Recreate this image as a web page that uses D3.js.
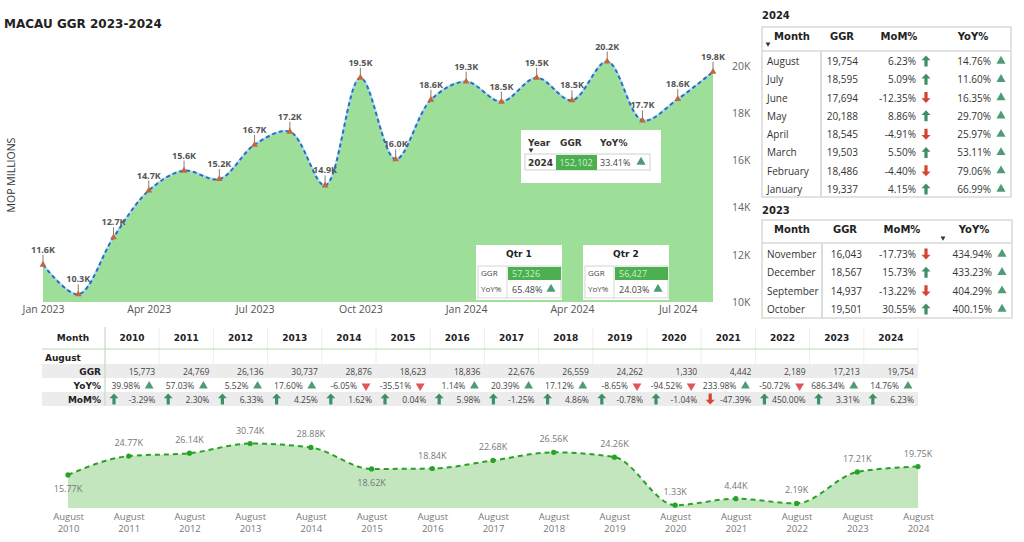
<!DOCTYPE html>
<html>
<head>
<meta charset="utf-8">
<script src="https://cdn.jsdelivr.net/npm/d3@7"></script>
<style>
  body { margin: 0; background: #fff; }
  svg { display: block; font-family: "Open Sans", sans-serif; }
</style>
</head>
<body>
<svg id="chart" width="1024" height="542"></svg>
<script>
// ---- data ----
const months = ["Jan 2023","Feb 2023","Mar 2023","Apr 2023","May 2023","Jun 2023","Jul 2023","Aug 2023","Sep 2023","Oct 2023","Nov 2023","Dec 2023",
  "Jan 2024","Feb 2024","Mar 2024","Apr 2024","May 2024","Jun 2024","Jul 2024","Aug 2024"];
const monthGGR = [11580, 10324, 12738, 14722, 15565, 15207, 16662, 17213, 14937, 19501, 16043, 18567,
  19337, 18486, 19503, 18545, 20188, 17694, 18595, 19754];
const monthTicks = ["Jan 2023","Apr 2023","Jul 2023","Oct 2023","Jan 2024","Apr 2024","Jul 2024"];
const yTicks = [10000, 12000, 14000, 16000, 18000, 20000];

const summaryYear = "2024";
const summaryGGR = 152102;
const summaryYoY = 33.41;

const quarters = ["Qtr 1", "Qtr 2"];
const qtrGGR = [57326, 56427];
const qtrYoY = [65.48, 24.03];

const t24Months = ["August","July","June","May","April","March","February","January"];
const t24GGR = [19754, 18595, 17694, 20188, 18545, 19503, 18486, 19337];
const t24MoM = [6.23, 5.09, -12.35, 8.86, -4.91, 5.50, -4.40, 4.15];
const t24YoY = [14.76, 11.60, 16.35, 29.70, 25.97, 53.11, 79.06, 66.99];

const t23Months = ["November","December","September","October"];
const t23GGR = [16043, 18567, 14937, 19501];
const t23MoM = [-17.73, 15.73, -13.22, 30.55];
const t23YoY = [434.94, 433.23, 404.29, 400.15];

const years = ["2010","2011","2012","2013","2014","2015","2016","2017","2018","2019","2020","2021","2022","2023","2024"];
const augGGR = [15773, 24769, 26136, 30737, 28876, 18623, 18836, 22676, 26559, 24262, 1330, 4442, 2189, 17213, 19754];
const augYoY = [39.98, 57.03, 5.52, 17.60, -6.05, -35.51, 1.14, 20.39, 17.12, -8.65, -94.52, 233.98, -50.72, 686.34, 14.76];
const augMoM = [-3.29, 2.30, 6.33, 4.25, 1.62, 0.04, 5.98, -1.25, 4.86, -0.78, -1.04, -47.39, 450.00, 3.31, 6.23];
const augMoMArrow = ["up","up","up","up","up","up","up","up","up","up","up","down","up","up","up"];

// ---- helpers ----
const svg = d3.select("#chart");
const heavy = '"DejaVu Sans", Verdana, sans-serif';
const fmt = d3.format(",");
const pct = d => d.toFixed(2) + "%";
const GREEN_TRI = "#4f9c74", RED_TRI = "#e0555a", GREEN_ARR = "#3f8f66", RED_ARR = "#d2452f";
const arrowUp = "M0,-5.5L4.5,-0.8L1.6,-0.8L1.6,5.5L-1.6,5.5L-1.6,-0.8L-4.5,-0.8Z";

function tri(g, x, y, up, color, size) {
  g.append("path")
    .attr("d", d3.symbol(d3.symbolTriangle, size || 38)())
    .attr("transform", `translate(${x},${y})${up ? "" : " rotate(180)"}`)
    .attr("fill", color || (up ? GREEN_TRI : RED_TRI));
}
function arrow(g, x, y, up) {
  g.append("path")
    .attr("d", arrowUp)
    .attr("transform", `translate(${x},${y})${up ? "" : " rotate(180)"}`)
    .attr("fill", up ? GREEN_ARR : RED_ARR);
}

// ---- main chart ----
svg.append("text")
  .attr("x", 4).attr("y", 28)
  .style("font-family", heavy).style("font-weight", "bold").style("font-size", "12px")
  .attr("fill", "#222")
  .text("MACAU GGR 2023-2024");

svg.append("text")
  .attr("transform", "translate(15,175) rotate(-90)")
  .attr("text-anchor", "middle")
  .style("font-size", "10.5px").attr("fill", "#333")
  .text("MOP MILLIONS");

const x = d3.scalePoint().domain(months).range([43, 713]);
const y = d3.scaleLinear().domain([10000, 20000]).range([302, 66]);

svg.append("clipPath").attr("id", "plotclip")
  .append("rect").attr("x", 43).attr("y", 30).attr("width", 670).attr("height", 272);

const curve = d3.curveCatmullRom.alpha(0.5);
const main = svg.append("g").attr("clip-path", "url(#plotclip)");

main.append("path")
  .datum(monthGGR)
  .attr("fill", "#9ddf98")
  .attr("d", d3.area().x((d, i) => x(months[i])).y0(y(10000)).y1(d => y(d)).curve(curve));

const line = d3.line().x((d, i) => x(months[i])).y(d => y(d)).curve(curve);
main.append("path").datum(monthGGR)
  .attr("fill", "none").attr("stroke", "#a7dcef").attr("stroke-width", 2.2)
  .attr("d", line);
main.append("path").datum(monthGGR)
  .attr("fill", "none").attr("stroke", "#2f6db3").attr("stroke-width", 2)
  .attr("stroke-dasharray", "4,3")
  .attr("d", line);

const yAxis = svg.append("g")
  .attr("transform", "translate(729,0)")
  .call(d3.axisRight(y).tickValues(yTicks).tickSize(0).tickPadding(3).tickFormat(d => d / 1000 + "K"));
yAxis.select(".domain").remove();
yAxis.selectAll("text").style("font-size", "10.5px").style("font-family", '"Open Sans", sans-serif').attr("fill", "#666");

const xAxis = svg.append("g")
  .attr("transform", "translate(0,302)")
  .call(d3.axisBottom(x).tickValues(monthTicks).tickSize(0).tickPadding(4));
xAxis.select(".domain").remove();
xAxis.selectAll("text").style("font-size", "10.5px").style("font-family", '"Open Sans", sans-serif').attr("fill", "#555");

const pts = svg.append("g");
monthGGR.forEach((v, i) => {
  const px = x(months[i]), py = y(v);
  pts.append("line")
    .attr("x1", px).attr("x2", px).attr("y1", py - 10).attr("y2", py - 1)
    .attr("stroke", "#8a7a70").attr("stroke-width", 1);
  tri(pts, px, py, true, "#c6643a", 20);
  pts.append("text")
    .attr("x", px).attr("y", py - 12)
    .attr("text-anchor", "middle")
    .style("font-size", "9px").style("font-weight", "bold")
    .attr("fill", "#555")
    .text((v / 1000).toFixed(1) + "K");
});

// ---- year summary card ----
const card = svg.append("g");
card.append("rect").attr("x", 521).attr("y", 130).attr("width", 140).attr("height", 53).attr("fill", "#fff");
[["Year", 528], ["GGR", 560], ["YoY%", 600]].forEach(([t, cx]) => {
  card.append("text").attr("x", cx).attr("y", 146)
    .style("font-family", heavy).style("font-weight", "bold").style("font-size", "9px")
    .attr("fill", "#333").text(t);
});
tri(card, 531, 150, false, "#333", 10);
card.append("rect").attr("x", 525).attr("y", 154).attr("width", 125).attr("height", 16)
  .attr("fill", "none").attr("stroke", "#d0d0d0");
card.append("text").attr("x", 528).attr("y", 166)
  .style("font-family", heavy).style("font-weight", "bold").style("font-size", "9px")
  .attr("fill", "#333").text(summaryYear);
card.append("rect").attr("x", 556).attr("y", 155).attr("width", 41).attr("height", 15).attr("fill", "#4caf50");
card.append("text").attr("x", 576).attr("y", 166).attr("text-anchor", "middle")
  .style("font-size", "9px").attr("fill", "#d6efd6").text(fmt(summaryGGR));
card.append("text").attr("x", 600).attr("y", 166)
  .style("font-size", "9px").attr("fill", "#444").text(pct(summaryYoY));
tri(card, 641, 162, summaryYoY >= 0, GREEN_TRI, 36);

// ---- quarter cards ----
const qx = d3.scalePoint().domain(quarters).range([476, 583]);
quarters.forEach((q, i) => {
  const g = svg.append("g").attr("transform", `translate(${qx(q)},245)`);
  g.append("rect").attr("width", 86).attr("height", 55).attr("fill", "#fff");
  g.append("text").attr("x", 43).attr("y", 12).attr("text-anchor", "middle")
    .style("font-family", heavy).style("font-weight", "bold").style("font-size", "9px")
    .attr("fill", "#222").text(q);
  g.append("rect").attr("x", 2).attr("y", 21).attr("width", 83).attr("height", 32)
    .attr("fill", "none").attr("stroke", "#d6d6d6");
  g.append("line").attr("x1", 31).attr("x2", 31).attr("y1", 21).attr("y2", 53).attr("stroke", "#d6d6d6");
  g.append("rect").attr("x", 32).attr("y", 22).attr("width", 53).attr("height", 13).attr("fill", "#4caf50");
  g.append("text").attr("x", 5).attr("y", 31).style("font-size", "8px").attr("fill", "#444").text("GGR");
  g.append("text").attr("x", 5).attr("y", 47).style("font-size", "8px").attr("fill", "#444").text("YoY%");
  g.append("text").attr("x", 36).attr("y", 32).style("font-size", "9px").attr("fill", "#cfeecf").text(fmt(qtrGGR[i]));
  g.append("text").attr("x", 36).attr("y", 48).style("font-size", "9px").attr("fill", "#444").text(pct(qtrYoY[i]));
  tri(g, 75, 44, qtrYoY[i] >= 0, GREEN_TRI, 36);
});

// ---- right month tables ----
function monthTable(title, L, mNames, ggr, mom, yoy) {
  const g = svg.append("g");
  g.append("text").attr("x", 762).attr("y", L.titleY)
    .style("font-family", heavy).style("font-weight", "bold").style("font-size", "10px")
    .attr("fill", "#222").text(title);
  g.append("rect").attr("x", 762).attr("y", L.top).attr("width", L.right - 762).attr("height", L.bottom - L.top)
    .attr("fill", "#fff").attr("stroke", "#d9d9d9").attr("stroke-width", 1.5);
  g.append("line").attr("x1", 762).attr("x2", L.right).attr("y1", L.line).attr("y2", L.line)
    .attr("stroke", "#d9d9d9").attr("stroke-width", 1.5);
  g.append("line").attr("x1", L.div).attr("x2", L.div).attr("y1", L.line).attr("y2", L.bottom)
    .attr("stroke", "#d0d0d0").attr("stroke-width", 1.5);
  L.heads.forEach(([t, cx]) => {
    g.append("text").attr("x", cx).attr("y", L.headY).attr("text-anchor", "middle")
      .style("font-family", heavy).style("font-weight", "bold").style("font-size", "10px")
      .attr("fill", "#222").text(t);
  });
  tri(g, L.sort[0], L.sort[1], false, "#333", 10);
  const ry = d3.scalePoint().domain(mNames).range(L.rows);
  mNames.forEach((m, i) => {
    const cy = ry(m) + 4;
    g.append("text").attr("x", 767).attr("y", cy).style("font-size", "10px").attr("fill", "#333").text(m);
    g.append("text").attr("x", L.ggrX).attr("y", cy).attr("text-anchor", "end")
      .style("font-size", "10px").attr("fill", "#333").text(fmt(ggr[i]));
    g.append("text").attr("x", 916).attr("y", cy).attr("text-anchor", "end")
      .style("font-size", "10px").attr("fill", "#333").text(pct(mom[i]));
    arrow(g, 926, cy - 4, mom[i] >= 0);
    g.append("text").attr("x", L.yoyX).attr("y", cy).attr("text-anchor", "end")
      .style("font-size", "10px").attr("fill", "#333").text(pct(yoy[i]));
    tri(g, L.yoyX + 10, cy - 4, yoy[i] >= 0, GREEN_TRI, 36);
  });
}
monthTable("2024", {
  titleY: 19, top: 27, bottom: 197, right: 1011, line: 51, div: 821, headY: 40,
  heads: [["Month", 792], ["GGR", 842], ["MoM%", 899], ["YoY%", 973]],
  sort: [768, 44], rows: [61, 189], ggrX: 858, yoyX: 991
}, t24Months, t24GGR, t24MoM, t24YoY);
monthTable("2023", {
  titleY: 214, top: 220, bottom: 318, right: 1012, line: 243, div: 822, headY: 233,
  heads: [["Month", 792], ["GGR", 845], ["MoM%", 902], ["YoY%", 974]],
  sort: [943, 238], rows: [254, 309], ggrX: 862, yoyX: 992
}, t23Months, t23GGR, t23MoM, t23YoY);

// ---- bottom matrix ----
const bx = d3.scaleBand().domain(years).range([105, 918]);
const mt = svg.append("g");
mt.append("rect").attr("x", 42).attr("y", 364).attr("width", 876).attr("height", 14).attr("fill", "#ececec");
mt.append("rect").attr("x", 42).attr("y", 392).attr("width", 876).attr("height", 14).attr("fill", "#ececec");
years.forEach(yr => {
  mt.append("line").attr("x1", bx(yr) + bx.bandwidth()).attr("x2", bx(yr) + bx.bandwidth())
    .attr("y1", 327).attr("y2", 364).attr("stroke", "#eeeeee");
});
mt.append("line").attr("x1", 42).attr("x2", 918).attr("y1", 349).attr("y2", 349)
  .attr("stroke", "#b9d9b4").attr("stroke-width", 1.2);
mt.append("line").attr("x1", 105).attr("x2", 105).attr("y1", 327).attr("y2", 406)
  .attr("stroke", "#c5dcc2").attr("stroke-width", 1.2);
const hstyle = s => s.style("font-family", heavy).style("font-weight", "bold").style("font-size", "9px").attr("fill", "#222");
hstyle(mt.append("text").attr("x", 73).attr("y", 341).attr("text-anchor", "middle").text("Month"));
hstyle(mt.append("text").attr("x", 45).attr("y", 361).text("August"));
[["GGR", 375], ["YoY%", 389], ["MoM%", 403]].forEach(([t, yy]) => {
  hstyle(mt.append("text").attr("x", 101).attr("y", yy).attr("text-anchor", "end").text(t));
});
years.forEach((yr, i) => {
  const left = bx(yr), right = left + bx.bandwidth();
  hstyle(mt.append("text").attr("x", left + bx.bandwidth() / 2).attr("y", 341).attr("text-anchor", "middle").text(yr));
  mt.append("text").attr("x", right - 4).attr("y", 375).attr("text-anchor", "end")
    .style("font-size", "8.5px").attr("fill", "#444").text(fmt(augGGR[i]));
  mt.append("text").attr("x", right - 19).attr("y", 389).attr("text-anchor", "end")
    .style("font-size", "8.5px").attr("fill", "#444").text(pct(augYoY[i]));
  tri(mt, right - 10, 386, augYoY[i] >= 0, null, 34);
  arrow(mt, left + 9, 399, augMoMArrow[i] === "up");
  mt.append("text").attr("x", right - 4).attr("y", 403).attr("text-anchor", "end")
    .style("font-size", "8.5px").attr("fill", "#444").text(pct(augMoM[i]));
});

// ---- bottom history chart ----
const hx = d3.scalePoint().domain(years).range([68, 918]);
const hy = d3.scaleLinear().domain([0, 31000]).range([508, 443]);
const hcurve = d3.curveMonotoneX;
svg.append("path").datum(augGGR)
  .attr("fill", "#c3e6bf")
  .attr("d", d3.area().x((d, i) => hx(years[i])).y0(hy(0)).y1(d => hy(d)).curve(hcurve));
svg.append("path").datum(augGGR)
  .attr("fill", "none").attr("stroke", "#27a227").attr("stroke-width", 2)
  .attr("stroke-dasharray", "5,4")
  .attr("d", d3.line().x((d, i) => hx(years[i])).y(d => hy(d)).curve(hcurve));
const labelBelow = new Set(["2010", "2015"]);
augGGR.forEach((v, i) => {
  const px = hx(years[i]), py = hy(v);
  svg.append("circle").attr("cx", px).attr("cy", py).attr("r", 2.6).attr("fill", "#27a227");
  svg.append("text").attr("x", px).attr("y", labelBelow.has(years[i]) ? py + 17 : py - 10)
    .attr("text-anchor", "middle").style("font-size", "9px").attr("fill", "#777")
    .text((v / 1000).toFixed(2) + "K");
});
const hAxis = svg.append("g")
  .attr("transform", "translate(0,508)")
  .call(d3.axisBottom(hx).tickSize(0).tickPadding(5));
hAxis.select(".domain").remove();
hAxis.selectAll("text")
  .style("font-size", "9.5px").style("font-family", '"Open Sans", sans-serif').attr("fill", "#777")
  .each(function(d) {
    const t = d3.select(this).text(null);
    t.append("tspan").attr("x", 0).attr("dy", "0.71em").text("August");
    t.append("tspan").attr("x", 0).attr("dy", "1.25em").text(d);
  });
</script>
</body>
</html>
